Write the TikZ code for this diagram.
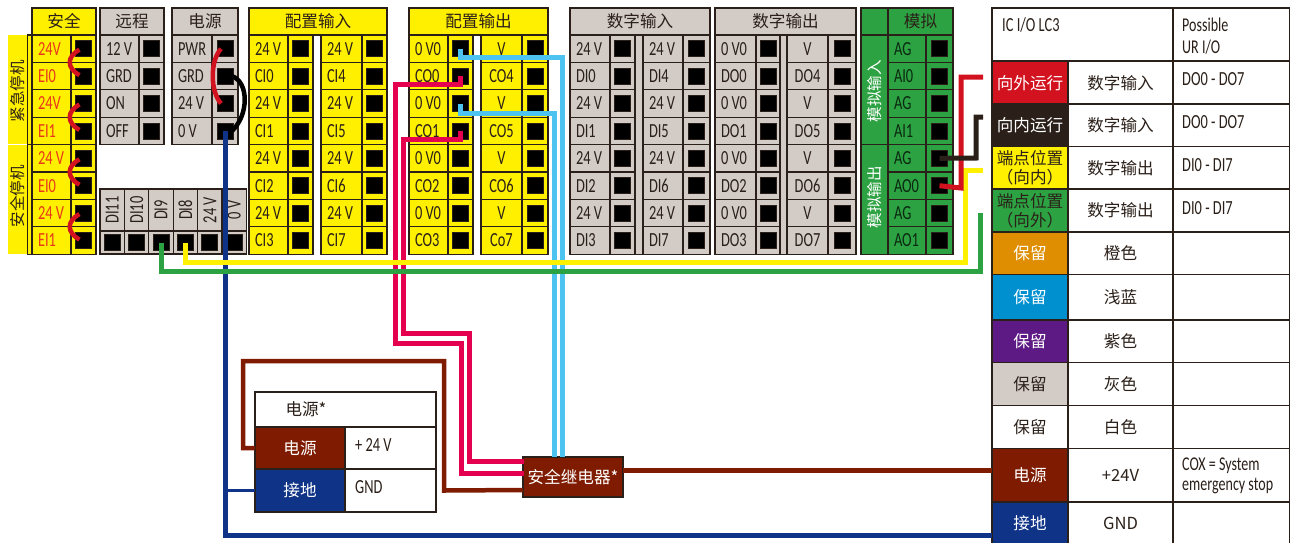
\documentclass[tikz,border=0pt]{standalone}
\usepackage{fontspec}
\setmainfont[FakeStretch=0.72]{Carlito}
\newfontfamily\cjk{Noto Sans CJK SC}
\definecolor{cY}{HTML}{FFF000}
\definecolor{cK}{HTML}{2B2019}
\definecolor{cG}{HTML}{D3CBC6}
\definecolor{cV}{HTML}{2CA242}
\definecolor{cR}{HTML}{D2121F}
\definecolor{cB}{HTML}{7E1B00}
\definecolor{cN}{HTML}{0F3487}
\definecolor{cO}{HTML}{DE8E00}
\definecolor{cL}{HTML}{0090D0}
\definecolor{cP}{HTML}{5E1A84}
\definecolor{cM}{HTML}{E4004F}
\definecolor{cC}{HTML}{4CC3F0}
\definecolor{cS}{HTML}{E8381A}
\newcommand\cc[1]{\hfill #1\hfill\null}
\newcommand\latf{\fontsize{20}{20}\selectfont}
\newcommand\cjf{\cjk\fontsize{16.6}{19}\selectfont}
\newcommand\cjb{\cjk\fontsize{15.5}{19}\selectfont}
\tikzset{
  base/.style={inner sep=0pt,outer sep=0pt,draw=cK,line width=1.3pt,anchor=north west},
  hdr/.style={base,font=\cjf},
  lab/.style={base,font=\latf,text=#1},
  sqr/.style={inner sep=0pt,outer sep=0pt,fill=black,draw=cK,line width=.8pt,minimum size=16pt},
  tcell/.style={base,line width=1.9pt,font=\cjf,align=center},
  ttext/.style={inner sep=0pt,anchor=west,align=left,text=cK,font=\latf},
  wire/.style={line width=5pt,miter limit=10},
  jump/.style={line width=4.5pt,cR,line cap=butt},
}
% prefix, xl, xm, xr, fill, text colour, labels
\newcommand{\termcol}[7]{%
  \foreach \lab [count=\i from 0] in {#7} {
    \pgfmathsetmacro\ya{35+27.4*\i}
    \pgfmathsetmacro\wa{#3-#2}
    \pgfmathsetmacro\wb{#4-#3}
    \pgfmathsetmacro\wt{#3-#2-12}
    \node[lab=#6,fill=#5,minimum width=\wa pt,minimum height=27.4pt] (#1l\i) at (#2,\ya) {\makebox[\wt pt][l]{\lab}};
    \node[base,fill=#5,minimum width=\wb pt,minimum height=27.4pt] (#1c\i) at (#3,\ya) {};
    \node[sqr] (#1s\i) at (#1c\i.center) {};
  }}
\newcommand{\head}[7]{% name x0 x1 fill text textcol  (y 8-35)
  \pgfmathsetmacro\wa{#3-#2}
  \node[hdr,fill=#4,text=#6,minimum width=\wa pt,minimum height=27pt] (#1) at (#2,8) {#5};}
\newcommand{\tabrow}[7]{% name ytop ybot fill textcolor text middle
  \pgfmathsetmacro\hh{#3-#2}
  \node[tcell,fill=#4,text=#5,minimum width=76pt,minimum height=\hh pt] (#1a) at (992,#2) {#6};
  \node[tcell,fill=white,text=cK,minimum width=105pt,minimum height=\hh pt] (#1b) at (1068,#2) {#7};
  \node[tcell,fill=white,minimum width=116.5pt,minimum height=\hh pt] (#1c) at (1173,#2) {};}
\begin{document}
\begin{tikzpicture}[x=1pt,y=-1pt]
\useasboundingbox (0,0) rectangle (1292,542);
% --- left banners
\fill[cY] (8,35) rectangle (27,144);
\fill[cY] (8,145) rectangle (27,254);
\node[inner sep=0pt,rotate=90,font=\cjb,text=cK] (banE) at (18,91) {紧急停机};
\node[inner sep=0pt,rotate=90,font=\cjb,text=cK] (banS) at (18,196) {安全停机};
\node[base,fill=cY,minimum width=5pt,minimum height=109.6pt] (strE) at (27.5,35) {};
\node[base,fill=cY,minimum width=5pt,minimum height=109.6pt] (strS) at (27.5,144.6) {};
% --- safety
\head{hSafe}{32}{96}{cY}{安全}{cK}{}
\termcol{sa}{32}{71}{96}{cY}{cS}{24V,EI0,24V,EI1,24 V,EI0,24 V,EI1}
% --- remote, power
\head{hRem}{100}{164}{cG}{远程}{cK}{}
\termcol{re}{100}{139}{164}{cG}{cK}{12 V,GRD,ON,OFF}
\head{hPow}{172}{238}{cG}{电源}{cK}{}
\termcol{po}{172}{212}{238}{cG}{cK}{PWR,GRD,24 V,0 V}
% --- bottom block
\foreach \lab [count=\i from 0] in {DI11,DI10,DI9,DI8,24 V,0 V} {
  \pgfmathsetmacro\xa{100+24.4*\i}
  \node[base,fill=cG,text=cK,font=\latf,minimum width=24.4pt,minimum height=42pt] (bl\i) at (\xa,189) {\rotatebox{90}{\lab}};
  \node[base,fill=cG,minimum width=24.4pt,minimum height=23pt] (bc\i) at (\xa,231) {};
  \node[sqr] (bs\i) at (bc\i.center) {};
}
% --- configurable inputs
\head{hCI}{249}{387}{cY}{配置输入}{cK}{}
\termcol{ca}{249}{288}{313}{cY}{cK}{24 V,CI0,24 V,CI1,24 V,CI2,24 V,CI3}
\termcol{cb}{321}{362}{387}{cY}{cK}{24 V,CI4,24 V,CI5,24 V,CI6,24 V,CI7}
% --- configurable outputs
\head{hCO}{409}{548}{cY}{配置输出}{cK}{}
\termcol{oa}{409}{448}{473}{cY}{cK}{0 V0,CO0,0 V0,CO1,0 V0,CO2,0 V0,CO3}
\termcol{ob}{481}{522}{548}{cY}{cK}{\cc{V},\cc{CO4},\cc{V},\cc{CO5},\cc{V},\cc{CO6},\cc{V},\cc{Co7}}
% --- digital inputs
\head{hDI}{570}{710}{cG}{数字输入}{cK}{}
\node[base,fill=cG,minimum width=8pt,minimum height=219.2pt] (gDI) at (635,35) {};
\termcol{da}{570}{610}{635}{cG}{cK}{24 V,DI0,24 V,DI1,24 V,DI2,24 V,DI3}
\termcol{db}{643}{683}{710}{cG}{cK}{24 V,DI4,24 V,DI5,24 V,DI6,24 V,DI7}
% --- digital outputs
\head{hDO}{715}{856}{cG}{数字输出}{cK}{}
\node[base,fill=cG,minimum width=7pt,minimum height=219.2pt] (gDO) at (780,35) {};
\termcol{ea}{715}{756}{780}{cG}{cK}{0 V0,DO0,0 V0,DO1,0 V0,DO2,0 V0,DO3}
\termcol{eb}{787}{828}{856}{cG}{cK}{\cc{V},\cc{DO4},\cc{V},\cc{DO5},\cc{V},\cc{DO6},\cc{V},\cc{DO7}}
% --- analog
\head{hAx}{861}{888}{cV}{}{cK}{}
\head{hAn}{888}{953}{cV}{模拟}{cK}{}
\node[base,fill=cV,minimum width=27pt,minimum height=109.6pt] (anI) at (861,35) {};
\node[base,fill=cV,minimum width=27pt,minimum height=109.6pt] (anO) at (861,144.6) {};
\node[inner sep=0pt,rotate=90,font=\cjb,text=white] (anIt) at (874.5,91) {模拟输入};
\node[inner sep=0pt,rotate=90,font=\cjb,text=white] (anOt) at (874.5,197) {模拟输出};
\termcol{an}{888}{926}{953}{cV}{black!75!cV}{AG,AI0,AG,AI1,AG,AO0,AG,AO1}
% --- right table
\node[tcell,fill=white,minimum width=181pt,minimum height=53pt] (t0a) at (992,8) {};
\node[tcell,fill=white,minimum width=116.5pt,minimum height=53pt] (t0c) at (1173,8) {};
\node[ttext] (t0t) at (1002,25) {IC I/O LC3};
\node[ttext,font=\fontsize{19.5}{21.5}\selectfont] (t0u) at (1182,36) {Possible\\UR I/O};
\tabrow{r1}{61.5}{104}{cR}{white}{向外运行}{数字输入}
\tabrow{r2}{104}{146.5}{cK}{white}{向内运行}{数字输入}
\tabrow{r3}{146.5}{189}{cY}{cK}{端点位置\\（向内）}{数字输出}
\tabrow{r4}{189}{232}{cV}{cK}{端点位置\\（向外）}{数字输出}
\tabrow{r5}{232}{274.5}{cO}{white}{保留}{橙色}
\tabrow{r6}{274.5}{320}{cL}{white}{保留}{浅蓝}
\tabrow{r7}{320}{362.5}{cP}{white}{保留}{紫色}
\tabrow{r8}{362.5}{405.5}{cG}{cK}{保留}{灰色}
\tabrow{r9}{405.5}{448.5}{white}{cK}{保留}{白色}
\tabrow{r10}{448.5}{502}{cB}{white}{电源}{+24V}
\tabrow{r11}{502}{544}{cN}{white}{接地}{GND}
\node[ttext] (r1t) at (1182,79) {DO0 - DO7};
\node[ttext] (r2t) at (1182,122) {DO0 - DO7};
\node[ttext] (r3t) at (1182,165) {DI0 - DI7};
\node[ttext] (r4t) at (1182,208) {DI0 - DI7};
\node[ttext,font=\fontsize{19.5}{20.5}\selectfont] (r10t) at (1182,476) {COX = System\\emergency stop};
% --- power supply table
\node[tcell,fill=white,minimum width=181pt,minimum height=35pt] (ps0) at (255,392) {};
\node[inner sep=0pt,font=\cjf,text=cK] (ps0t) at (306,409) {电源*};
\node[tcell,fill=cB,text=white,minimum width=90pt,minimum height=42pt] (ps1a) at (255,427) {电源};
\node[tcell,fill=white,minimum width=91pt,minimum height=42pt] (ps1b) at (345,427) {};
\node[ttext] (ps1t) at (355,445) {+ 24 V};
\node[tcell,fill=cN,text=white,minimum width=90pt,minimum height=43pt] (ps2a) at (255,469) {接地};
\node[tcell,fill=white,minimum width=91pt,minimum height=43pt] (ps2b) at (345,469) {};
\node[ttext] (ps2t) at (355,487) {GND};
% --- relay
\node[base,line width=2pt,fill=cB,text=white,font=\cjf,minimum width=100pt,minimum height=40pt] (relay) at (523,457) {安全继电器*};
\coordinate (rP1) at (523.5,461);
\coordinate (rP2) at (523.5,473);
\coordinate (rBr) at (523,490);
\coordinate (tFar) at (992,470);
% --- jumpers
\foreach \n/\m in {0/1,2/3,4/5,6/7}
  \draw[jump] ([xshift=-4pt,yshift=-1pt]sas\n.center) .. controls +(-13,7) and +(-13,-7) .. ([xshift=-4pt,yshift=1pt]sas\m.center);
\draw[jump] ([xshift=-4pt]pos0.center) .. controls +(-11,12) and +(-11,-12) .. ([xshift=-4pt]pos2.center);
\draw[line width=4.5pt,black] ([xshift=7pt]pos1.center) .. controls +(17,6) and +(17,-16) .. ([xshift=7pt]pos3.center);
% --- wires
\coordinate (bT) at (225,535.5);
\draw[wire,cN] (pos3.center) -- (bT) -- (bT -| r11a.west);
\draw[line width=3pt,cN] (pos3.center |- ps2a.west) -- (ps2a.west);
\coordinate (mA) at (395,84);
\coordinate (mB) at (395,343);
\coordinate (mC) at (461,343);
\draw[wire,cM] (oas1.center) |- (mA) -- (mB) -- (mC) |- (rP2);
\coordinate (nA) at (403,139);
\coordinate (nB) at (403,333);
\coordinate (nC) at (469,333);
\draw[wire,cM] (oas3.center) |- (nA) -- (nB) -- (nC) |- (rP1);
\coordinate (cA) at (562,57);
\draw[wire,cC] (oas0.center) |- (cA) -- (cA |- relay.north);
\coordinate (dA) at (554.5,113);
\draw[wire,cC] (oas2.center) |- (dA) -- (dA |- relay.north);
\coordinate (yA) at (965,262);
\coordinate (yB) at (983,170);
\draw[wire,cY] (bs3.center) |- (yA) |- (yB);
\coordinate (gA) at (980.5,271.5);
\coordinate (gB) at (980.5,213);
\draw[wire,cV] (bs2.center) |- (gA) -- (gB);
\coordinate (aA) at (961,188);
\coordinate (aB) at (983,77);
\draw[wire,cR] (ans5.center) -- (aA) |- (aB);
\coordinate (kA) at (976,158);
\coordinate (kB) at (983,117);
\draw[wire,cK] (ans4.center) -- (kA) |- (kB);
\draw[wire,cB] (relay.east |- tFar) -- (tFar);
\coordinate (uA) at (444,490.5);
\coordinate (uB) at (444,361);
\coordinate (uC) at (243,361);
\draw[line width=4.5pt,cB] (rBr) -- (uA) -- (uB) -- (uC) |- (ps1a.west);
\end{tikzpicture}
\end{document}
